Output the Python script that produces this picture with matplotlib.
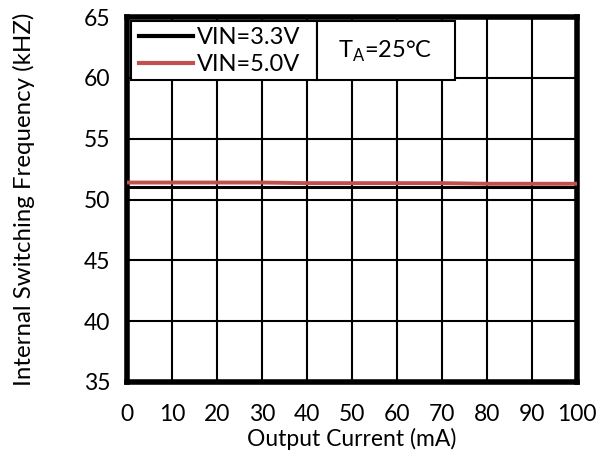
import matplotlib
matplotlib.use("Agg")
import matplotlib.pyplot as plt
from matplotlib.lines import Line2D
from matplotlib.patches import Rectangle

plt.rcParams['font.family'] = ['Lato', 'DejaVu Sans']

current = [0, 10, 20, 30, 40, 50, 60, 70, 80, 90, 100]
freq_33 = [51.0, 51.0, 51.0, 51.0, 51.0, 51.0, 51.0, 51.0, 51.0, 51.0, 51.0]
freq_50 = [51.4, 51.4, 51.4, 51.4, 51.35, 51.35, 51.35, 51.35, 51.3, 51.3, 51.3]

fig = plt.figure(figsize=(6.01, 4.51), dpi=100)
ax = fig.add_axes([0.211, 0.153, 0.749, 0.809])
ax.plot(current, freq_33, color='black', lw=2.2, zorder=3)
ax.plot(current, freq_50, color='#c0504d', lw=2.8, zorder=3)
ax.set_xlim(0, 100)
ax.set_ylim(35, 65)
ax.set_xticks(range(0, 101, 10))
ax.set_yticks(range(35, 66, 5))
ax.grid(True, color='black', lw=1.5)
for s in ax.spines.values():
    s.set_linewidth(4)
ax.tick_params(length=0, labelsize=16.5)
ax.tick_params(axis='y', pad=12)
ax.tick_params(axis='x', pad=16)
ax.set_xlabel('Output Current (mA)', fontsize=16.5, labelpad=2)
ax.set_ylabel('Internal Switching Frequency (kHZ)', fontsize=17.3, labelpad=35)

# legend frame and T_A box
ax.add_patch(Rectangle((0.009, 0.827), 0.413, 0.162, transform=ax.transAxes,
                       fc='white', ec='black', lw=1.5, zorder=5))
ax.add_patch(Rectangle((0.422, 0.827), 0.307, 0.162, transform=ax.transAxes,
                       fc='white', ec='black', lw=1.5, zorder=6))

handles = [Line2D([], [], color='black', lw=3), Line2D([], [], color='#c0504d', lw=3)]
leg = ax.legend(handles, ['VIN=3.3V', 'VIN=5.0V'], loc='center left', fontsize=17,
                bbox_to_anchor=(0.009, 0.907), borderaxespad=0.0, frameon=False,
                handlelength=2.3, handletextpad=0.15,
                labelspacing=0.28, borderpad=0.35)
leg.set_zorder(7)

ax.text(0.575, 0.905, r'T$_\mathregular{A}$=25°C', transform=ax.transAxes, fontsize=17,
        ha='center', va='center', zorder=7)

fig.savefig('out.png', dpi=100)
